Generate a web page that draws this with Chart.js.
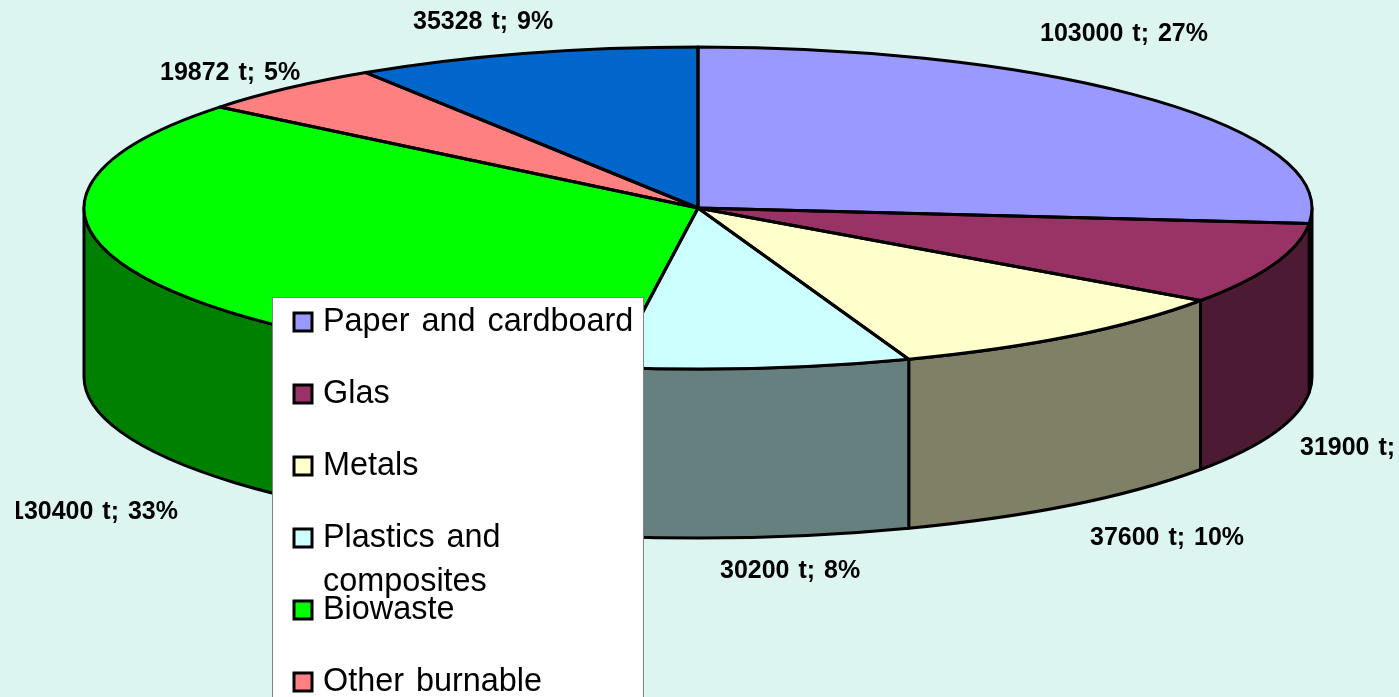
<!DOCTYPE html>
<html>
<head>
<meta charset="utf-8">
<title>Waste composition</title>
<script src="https://cdn.jsdelivr.net/npm/chart.js@4"></script>
<style>
html, body { margin: 0; padding: 0; background: #ddf5f1; overflow: hidden; }
canvas { display: block; }
</style>
</head>
<body>
<canvas id="wasteChart" width="1399" height="697"></canvas>
<script>
// data
var categories = ["Paper and cardboard", "Glas", "Metals", ["Plastics and", "composites"], "Biowaste", "Other burnable", "Others"];
var tonnes = [103000, 31900, 37600, 30200, 130400, 19872, 35328];
var percents = [27, 8, 10, 8, 33, 5, 9];
var topColours = ["#9999ff", "#993366", "#ffffcc", "#ccffff", "#00ff00", "#ff8080", "#0066cc"];
var wallColours = ["#4d4d80", "#4d1a33", "#808066", "#668080", "#008000", "#804040", "#003366"];

// where the labels sit (left edge, baseline)
var labelSpots = [[1040, 41], [1300, 455], [1090, 545], [720, 578], [10, 519], [160, 80], [413, 29]];

// the squashed pie on the page
var pie = { cx: 698, cy: 208, rx: 614, ry: 161, depth: 169, line: 3 };
var legendBox = { x: 272, y: 297, w: 371, rowPitch: 72, lineGap: 44 };

function drawWalls(ctx, arcs)
{
    ctx.save();
    ctx.lineWidth = pie.line;
    ctx.lineJoin = "round";
    ctx.strokeStyle = "#000";
    arcs.forEach(function(arc, i) {
        // only the front half of the pie shows a wall
        var from = Math.max(arc.startAngle, 0);
        var to = Math.min(arc.endAngle, Math.PI);
        if (to <= from) return;
        ctx.beginPath();
        ctx.ellipse(pie.cx, pie.cy, pie.rx, pie.ry, 0, from, to);
        ctx.ellipse(pie.cx, pie.cy + pie.depth, pie.rx, pie.ry, 0, to, from, true);
        ctx.closePath();
        ctx.fillStyle = wallColours[i];
        ctx.fill();
        ctx.stroke();
    });
    ctx.restore();
}

function drawOutlines(ctx, arcs)
{
    ctx.save();
    ctx.lineWidth = pie.line;
    ctx.lineJoin = "round";
    ctx.strokeStyle = "#000";
    arcs.forEach(function(arc) {
        ctx.beginPath();
        ctx.moveTo(pie.cx, pie.cy);
        ctx.ellipse(pie.cx, pie.cy, pie.rx, pie.ry, 0, arc.startAngle, arc.endAngle);
        ctx.closePath();
        ctx.stroke();
    });
    ctx.restore();
}

function drawLabels(ctx)
{
    ctx.save();
    // the reference cuts the first digit of the biowaste label
    ctx.beginPath();
    ctx.rect(16, 0, 1383, 697);
    ctx.clip();
    ctx.font = "bold 25px 'Liberation Sans'";
    ctx.wordSpacing = "2px";
    ctx.fillStyle = "#000";
    ctx.textBaseline = "alphabetic";
    tonnes.forEach(function(t, i) {
        ctx.fillText(t + " t; " + percents[i] + "%", labelSpots[i][0], labelSpots[i][1]);
    });
    ctx.restore();
}

function drawLegend(ctx, h)
{
    ctx.save();
    ctx.fillStyle = "#fff";
    ctx.strokeStyle = "#808080";
    ctx.lineWidth = 1;
    ctx.fillRect(legendBox.x, legendBox.y, legendBox.w, h - legendBox.y);
    ctx.strokeRect(legendBox.x + 0.5, legendBox.y + 0.5, legendBox.w, h);
    ctx.font = "32.4px 'Liberation Sans'";
    ctx.wordSpacing = "3px";
    categories.forEach(function(cat, i) {
        var mid = legendBox.y + 25 + i * legendBox.rowPitch;
        if (mid > h) return;
        ctx.fillStyle = topColours[i];
        ctx.strokeStyle = "#000";
        ctx.lineWidth = 3;
        ctx.fillRect(294, mid - 9, 18, 18);
        ctx.strokeRect(294, mid - 9, 18, 18);
        ctx.fillStyle = "#000";
        [].concat(cat).forEach(function(line, n) {
            ctx.fillText(line, 323, mid + 9 + n * legendBox.lineGap);
        });
    });
    ctx.restore();
}

var pie3d = {
    id: "pie3d",
    beforeDatasetsDraw: function(chart) {
        var ctx = chart.ctx;
        var arcs = chart.getDatasetMeta(0).data;
        drawWalls(ctx, arcs);
        // the library paints the top slices, squeezed into the ellipse
        var first = arcs[0];
        ctx.save();
        ctx.translate(pie.cx, pie.cy);
        ctx.scale(pie.rx / first.outerRadius, pie.ry / first.outerRadius);
        ctx.translate(-first.x, -first.y);
    },
    afterDatasetsDraw: function(chart) {
        var ctx = chart.ctx;
        ctx.restore();
        drawOutlines(ctx, chart.getDatasetMeta(0).data);
        drawLabels(ctx);
        drawLegend(ctx, chart.height);
    }
};

new Chart(document.getElementById("wasteChart"), {
    type: "pie",
    data: {
        labels: categories,
        datasets: [{
            data: tonnes,
            backgroundColor: topColours,
            borderWidth: 0,
            clip: false
        }]
    },
    options: {
        responsive: false,
        animation: false,
        events: [],
        plugins: { legend: { display: false }, tooltip: { enabled: false } }
    },
    plugins: [pie3d]
});
</script>
</body>
</html>
